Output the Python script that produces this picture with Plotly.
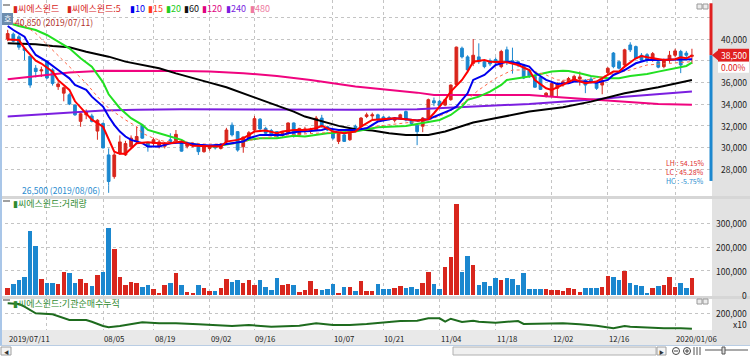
import plotly.graph_objects as go

W, H = 750, 356
def fx(p): return p / W
def fy(p): return 1 - p / H

# ---------------- data ----------------
opens = [40000,40450,40200,39150,38400,37300,37050,37950,37150,35600,
         35000,34850,33900,32400,33000,32900,31500,32200,29300,27300,
         29450,29300,30050,30550,32050,30400,30350,30050,30100,30700,
         30600,30400,30100,30150,30050,29600,29900,30200,29900,30500,
         32050,31450,30050,30850,31600,32600,31750,31550,31450,31100,
         31300,32250,31150,31500,31500,31600,32700,31900,31450,30550,
         31150,30700,31950,31900,32850,32900,33000,32800,32750,32500,
         32700,33300,32500,32050,31950,32700,34300,34250,33900,34400,
         35800,39150,38350,37750,38350,37900,38000,38100,37450,39000,
         38000,37900,37600,37100,36550,36450,34700,34700,35450,35750,
         36050,36200,36300,36200,36300,35900,35750,36900,38700,37900,
         37600,39450,39300,38500,38550,38200,37900,37450,38050,38500,
         38850,38700,38400]
highs = [40850,40600,40400,39250,38450,37600,37450,38000,37300,36100,
         35600,35000,34000,33200,33500,33100,32600,32300,29900,29500,
         31100,30600,31100,31900,32100,30500,30900,30700,30500,31300,
         31600,30500,30500,30500,30200,30200,30200,30300,30400,31800,
         32300,31500,31000,31500,32900,32700,31900,31700,31500,31500,
         32300,32300,31800,31900,31800,32900,33000,32000,31600,31400,
         31300,31400,32100,32800,33200,33200,33100,32900,32900,32800,
         33100,33400,32600,32200,32800,34500,34600,34400,34500,35800,
         39300,39300,38500,40000,39600,38100,38200,38300,39000,39300,
         39200,38000,37700,37200,36700,36500,35100,36000,36000,36200,
         36500,36700,37000,36300,36500,36000,36500,37400,38800,38000,
         39100,39700,39400,38700,38700,38800,38100,38200,38900,39100,
         39000,38900,39100]
lows = [39800,39700,39000,38050,35500,36450,36500,36300,35700,35300,
        34250,33900,32900,31900,32600,32300,30700,29900,26500,27100,
        29300,29200,29900,30400,30800,29600,30000,29900,29900,30300,
        30400,29600,29900,30000,29300,29500,29700,29800,29800,30400,
        31000,29600,29500,30700,31400,31600,31200,31000,30900,31000,
        31200,30900,31000,31300,31300,31500,31800,31500,30700,30300,
        30500,30600,31700,31800,32700,32600,32400,32400,32500,32300,
        32600,32400,32100,30200,31400,32600,33800,33700,33800,34300,
        35700,38200,36900,37500,37700,37300,37500,37600,37300,37600,
        36800,37400,36300,36400,35500,35300,34600,34600,34700,35600,
        35900,36000,35700,35000,35900,35300,34900,36700,37300,37200,
        37500,38800,38100,37900,37800,37900,37300,37300,37800,38300,
        36850,38000,37700]
closes = [40500,39800,39250,38950,35750,37000,37150,36400,35900,35850,
          35500,34000,33000,33100,33300,32400,32500,29950,26850,29300,
          30500,30350,30850,31000,30850,30050,30700,30500,30350,30400,
          31200,29650,30400,30350,29600,30050,30050,29950,30300,31600,
          31150,29750,30950,31350,32650,31700,31300,31150,31000,31350,
          32250,31000,31750,31700,31650,32700,31900,31600,30850,31300,
          30550,31300,31800,32700,33000,33000,32550,32500,32600,32700,
          33000,32550,32200,31450,32700,34400,34100,33850,34400,35750,
          39250,38350,37150,38500,37900,37450,37700,37800,38850,37900,
          37800,37600,36400,36600,35550,35350,35000,35900,35900,36050,
          36350,36550,36500,35750,36050,35450,36200,37300,37450,37300,
          39000,39000,38200,38050,38050,38650,37400,38050,38500,38900,
          37600,38500,38500]
volumes_k = [29,46,62,75,265,205,67,50,50,46, 96,92,50,67,50,37,83,96,280,190,
             75,42,54,50,33,42,25,8,42,50, 92,42,12,8,42,29,17,17,29,67,
             54,62,50,62,42,62,33,21,71,42, 46,42,12,21,58,25,21,25,46,8,
             33,33,17,58,17,17,46,25,25,28, 39,28,32,25,50,97,46,25,118,160,
             379,95,164,125,43,53,39,70,62,70, 67,42,92,25,25,25,25,21,21,17,
             29,25,12,29,29,29,33,79,75,62, 100,50,42,37,8,29,37,42,75,33,
             50,29,71]
volumes = [v * 1000 for v in volumes_k]

ma5_x = [0,2,3,5,6,8,9,11,12,14,15,17,18,19,20,21,22,23,25,27,29,31,33,36,38,39,41,42,44,46,47,48,49,51,53,55,56,57,58,60,62,63,65,68,69,71,73,75,76,78,79,81,82,83,85,86,87,89,91,93,94,96,97,98,100,101,103,105,107,108,109,110,112,113,114,116,117,119,120,121,122]
ma5_y = [39950,39900,39140,38000,37740,36990,36200,35300,34250,33150,32550,31900,30700,29600,29400,29400,29900,30380,30470,30380,30380,30530,30140,30070,30070,30530,30690,30840,31460,31550,31460,31300,31460,31610,31610,31760,31980,31760,31460,31300,31460,31920,32530,32690,32690,32590,32470,32590,33150,34380,35150,36220,36990,37910,38060,37910,37910,37850,37600,37140,36220,35450,35300,35540,36070,36280,35910,36070,36680,36990,36990,37450,38220,38430,38310,38130,38060,38130,38310,38220,38460]
ma10_x = [0,1,3,4,5,7,9,11,12,14,15,17,18,19,20,21,22,24,25,27,29,31,32,34,36,38,40,42,43,45,47,49,50,52,54,56,57,59,62,64,66,69,71,73,75,77,79,80,82,83,85,87,89,91,93,94,96,98,100,101,103,105,107,108,110,112,114,116,118,120,122]
ma10_y = [41200,40830,40215,39290,38525,37910,37140,36370,35760,35300,34680,33760,32840,32070,31460,31000,30690,30380,30070,30070,30380,30440,30380,30230,30170,30230,30380,30530,30840,31150,31150,31150,31300,31460,31520,31610,31760,31610,31610,31760,32380,32690,32590,32470,32590,32990,33450,33760,34990,36220,36680,37600,37910,37760,37450,36900,36220,35850,35910,36070,36070,35970,36220,36680,37140,37760,38060,38060,38060,38060,38120]
ma15_x = [0,3,5,8,11,14,16,18,21,23,24,26,28,31,35,40,45,50,55,60,65,70,75,78,81,84,87,90,93,96,98,101,104,107,111,114,118,122]
ma15_y = [41600,41250,40520,38990,37450,35910,34680,33610,32530,31920,31300,30840,30540,30540,30300,30300,30840,31150,31300,31450,31900,32200,32500,33100,34000,35300,36370,37140,37140,36680,36220,36160,36280,36680,37140,37600,37760,37910]
ma20_x = [0,2,5,7,9,11,13,15,17,18,20,22,24,25,27,29,31,32,35,37,39,42,43,45,48,49,51,53,55,57,59,62,64,66,69,71,73,75,77,79,81,82,84,86,88,89,91,93,95,97,99,100,102,104,107,109,111,114,116,119,121,122]
ma20_y = [41500,41200,40830,40370,39750,39140,38220,37450,36000,34900,33610,32690,32070,31610,31300,31000,30690,30380,30140,30070,30230,30530,30690,30840,30840,30930,31060,31000,31150,31300,31370,31460,31670,31860,31920,31980,32160,32380,32530,32990,33760,34380,34680,35150,35760,36220,36370,36530,36770,36990,37080,37050,36840,36590,36370,36370,36590,36770,36990,37300,37510,37820]
ma60_x = [0,5,8,11,14,18,21,24,27,30,33,36,39,42,45,48,51,53,56,59,62,65,68,71,74,75,78,81,83,86,89,93,99,104,110,116,122]
ma60_y = [39600,39510,39350,39230,38830,38370,37910,37600,37300,36830,36370,35970,35540,34990,34440,33820,33300,32840,32380,31980,31670,31550,31300,31150,31150,31150,31460,31920,32290,32590,32900,33300,33700,34220,34990,35540,36220]
ma120_x = [0,5,8,11,17,23,31,36,42,48,54,62,67,73,76,82,88,93,99,105,111,116,122]
ma120_y = [36280,36590,36770,36900,37080,37080,37050,36990,36840,36590,36220,35610,35360,35050,34840,34840,34840,34840,34590,34380,34130,34010,33920]
ma240_x = [0,5,11,17,23,31,45,62,73,79,85,93,99,105,110,116,122]
ma240_y = [32840,33000,33210,33390,33460,33520,33500,33460,33520,33700,33820,34010,34220,34440,34680,34900,35150]

inst_x = [0,2,3,5,8,11,14,15,17,18,20,24,27,30,34,40,43,47,52,55,58,61,64,67,70,73,75,77,78,79,81,83,84,87,90,91,92,95,99,102,105,108,110,111,114,117,120,122]
inst_y = [297,290,263,197,187,130,130,113,70,57,70,107,97,97,87,70,80,63,73,97,80,80,90,103,120,123,147,147,113,143,110,123,113,103,113,120,90,90,97,87,73,47,70,63,53,47,47,43]

date_idx = [0,17,26,36,44,58,67,77,87,97,107,119]
date_txt = ['2019/07/11','08/05','08/19','09/02','09/16','10/07','10/21','11/04','11/18','12/02','12/16','2020/01/06']
grid_idx = [7,17,26,36,44,58,67,77,87,97,107,119]

price_ticks = [40000,36000,34000,32000,30000,28000]
vol_ticks = [300000,200000,100000,0]

# ---------------- styling ----------------
RED = '#d8261d'
BLUE = '#1b87cf'
FONT = 'Noto Sans CJK KR, DejaVu Sans, sans-serif'
N = len(opens)
idx = list(range(N))
up = [c >= o for o, c in zip(opens, closes)]
vcol = [RED if u else BLUE for u in up]

fig = go.Figure()

ma_specs = [
    (ma240_x, ma240_y, '#7b1fe0', 2, 'solid'),
    (ma120_x, ma120_y, '#f0047f', 2, 'solid'),
    (ma60_x, ma60_y, '#000000', 2, 'solid'),
    (ma20_x, ma20_y, '#22e022', 2, 'solid'),
    (ma15_x, ma15_y, '#ff6a4a', 1, 'dot'),
    (ma10_x, ma10_y, '#0000ee', 2, 'solid'),
    (ma5_x, ma5_y, '#ff0000', 2, 'solid'),
]

fig.add_trace(go.Candlestick(
    x=idx, open=opens, high=highs, low=lows, close=closes,
    increasing=dict(line=dict(color=RED, width=1), fillcolor=RED),
    decreasing=dict(line=dict(color=BLUE, width=1), fillcolor=BLUE),
    whiskerwidth=0, xaxis='x', yaxis='y', hoverinfo='skip', showlegend=False))

for xs, ys, col, w, dash in ma_specs:
    fig.add_trace(go.Scatter(x=xs, y=ys, mode='lines', line=dict(color=col, width=w, dash=dash),
                             xaxis='x', yaxis='y', hoverinfo='skip', showlegend=False))

fig.add_trace(go.Bar(x=idx, y=volumes, marker=dict(color=vcol, line=dict(width=0)), width=0.8,
                     xaxis='x2', yaxis='y2', hoverinfo='skip', showlegend=False))

fig.add_trace(go.Scatter(x=inst_x, y=inst_y, mode='lines', line=dict(color='#1e6b1e', width=2),
                         xaxis='x3', yaxis='y3', hoverinfo='skip', showlegend=False))

XR = [-0.48, 125.4]
xcommon = dict(range=XR, showticklabels=False, tickmode='array', tickvals=grid_idx,
               showgrid=True, gridcolor='#c4c4c4', griddash='dot', gridwidth=1,
               zeroline=False, showline=False, ticks='', fixedrange=True,
               domain=[fx(5), fx(711)])
ycommon = dict(showticklabels=False, showgrid=True, gridcolor='#c4c4c4', griddash='dot',
               gridwidth=1, zeroline=False, showline=False, ticks='', fixedrange=True, tickmode='array')

fig.update_layout(
    width=W, height=H, margin=dict(l=0, r=0, t=0, b=0),
    paper_bgcolor='white', plot_bgcolor='white', showlegend=False,
    bargap=0, barmode='overlay',
    xaxis=dict(**xcommon, anchor='y', rangeslider=dict(visible=False)),
    xaxis2=dict(**xcommon, anchor='y2'),
    xaxis3=dict(**xcommon, anchor='y3'),
    yaxis=dict(**ycommon, domain=[fy(196), fy(0)], range=[25509, 43600],
               tickvals=[28000,30000,32000,34000,36000,38000,40000,42000]),
    yaxis2=dict(**ycommon, domain=[fy(296), fy(199)], range=[-4200, 400000],
                tickvals=[100000,200000,300000]),
    yaxis3=dict(**ycommon, domain=[fy(330), fy(299)], range=[30, 340], tickvals=[200]),
)

shapes = []
def rect(x0, y0, x1, y1, fill, line=None, layer='below'):
    shapes.append(dict(type='rect', xref='paper', yref='paper', x0=fx(x0), x1=fx(x1),
                       y0=fy(y1), y1=fy(y0), fillcolor=fill,
                       line=dict(width=0) if line is None else dict(color=line, width=1), layer=layer))

# right grey axis band and date band
rect(712, 0, 750, 345, '#e2e2e2')
rect(0, 330, 712, 345, '#e9e9e9')
# panel separators
rect(0, 196, 750, 199, '#d6d6d6', layer='above')
rect(0, 296, 750, 299, '#d6d6d6', layer='above')
# left border
rect(0, 0, 2, 345, '#a9c6e8', layer='above')
# bottom scroll row
rect(0, 345, 750, 346, '#b9cde4', layer='above')
rect(1, 347, 11, 355, '#f4f4f4', line='#a0a0a0', layer='above')
rect(453, 347, 656, 355, '#f0f0f0', line='#b0b0b0', layer='above')
rect(657, 347, 666, 355, '#f4f4f4', line='#a0a0a0', layer='above')
# small window icons
for yy in (4, 299):
    rect(697, yy, 702, yy + 5, '#ececec', line='#9a9a9a', layer='above')
    rect(703, yy, 708, yy + 5, '#ececec', line='#9a9a9a', layer='above')
# panel title grey handles
rect(3, 200, 10, 202, '#a0a0a0', layer='above')
rect(3, 299, 10, 301, '#a0a0a0', layer='above')
rect(3, 4, 10, 6, '#a0a0a0', layer='above')
# top-left icon
rect(2, 13, 13, 25, '#6c8cae', layer='above')
# zoom icons (drawn as circles)
for cx in (676, 687):
    shapes.append(dict(type='circle', xref='paper', yref='paper', x0=fx(cx - 3.5), x1=fx(cx + 3.5),
                       y0=fy(354.5), y1=fy(347.5), line=dict(color='#444', width=1), layer='above'))
shapes.append(dict(type='line', xref='paper', yref='paper', x0=fx(674), x1=fx(678), y0=fy(351), y1=fy(351),
                   line=dict(color='#444', width=1), layer='above'))
shapes.append(dict(type='line', xref='paper', yref='paper', x0=fx(685), x1=fx(689), y0=fy(351), y1=fy(351),
                   line=dict(color='#444', width=1), layer='above'))
shapes.append(dict(type='line', xref='paper', yref='paper', x0=fx(687), x1=fx(687), y0=fy(353), y1=fy(349),
                   line=dict(color='#444', width=1), layer='above'))
for bx in (694, 697, 700):
    shapes.append(dict(type='line', xref='paper', yref='paper', x0=fx(bx), x1=fx(bx), y0=fy(355), y1=fy(347),
                       line=dict(color='#555', width=1), layer='above'))

last_close = closes[-1]
# price range bar on right edge
shapes.append(dict(type='line', xref='paper', yref='y', x0=fx(711), x1=fx(711), y0=last_close, y1=43300,
                   line=dict(color='#e02020', width=3), layer='above'))
shapes.append(dict(type='line', xref='paper', yref='y', x0=fx(711), x1=fx(711), y0=26900, y1=last_close,
                   line=dict(color='#1b87cf', width=3), layer='above'))
# current price marker
shapes.append(dict(type='rect', xref='paper', yref='y', ysizemode='pixel', yanchor=last_close,
                   x0=fx(718), x1=fx(749), y0=-6.5, y1=6.5, fillcolor='#e02020', line=dict(width=0), layer='above'))
shapes.append(dict(type='rect', xref='paper', yref='y', ysizemode='pixel', yanchor=last_close,
                   x0=fx(718), x1=fx(749), y0=-17.5, y1=-6.5, fillcolor='white', line=dict(width=0), layer='above'))
shapes.append(dict(type='path', xref='paper', yref='y', xsizemode='pixel', ysizemode='pixel',
                   xanchor=fx(712), yanchor=last_close, path='M 0,0 L 6,5 L 6,-5 Z',
                   fillcolor='#e02020', line=dict(width=0), layer='above'))
# low marker connector
shapes.append(dict(type='line', xref='x', yref='y', x0=18, x1=18, y0=26500, y1=26500 - 700,
                   line=dict(color='#2a8ccf', width=1), layer='above'))
# bottom slider
shapes.append(dict(type='line', xref='paper', yref='paper', x0=fx(705), x1=fx(748), y0=fy(350), y1=fy(350),
                   line=dict(color='#555', width=1), layer='above'))
shapes.append(dict(type='rect', xref='paper', yref='paper', x0=fx(722), x1=fx(725), y0=fy(354), y1=fy(347),
                   fillcolor='#ddd', line=dict(color='#555', width=1), layer='above'))
fig.update_layout(shapes=shapes)

ann = []
def txt(x, y, s, color='#222', size=8.5, xanchor='left', xref='paper', yref='paper', **kw):
    ann.append(dict(x=x, y=y, text=s, xref=xref, yref=yref, xanchor=xanchor, yanchor='middle',
                    showarrow=False, borderpad=0, font=dict(family=FONT, size=size, color=color), **kw))

# legend row
legend = [(4, '▮씨에스윈드', '#d8261d'), (58, '▮씨에스윈드:5', '#d8261d'), (121, '▮10', '#0000ee'),
          (139, '▮15', '#ff3b1f'), (157, '▮20', '#22cc22'), (175, '▮60', '#111111'),
          (193, '▮120', '#e0047f'), (217, '▮240', '#7b1fe0'), (241, '▮480', '#ee7aa0')]
for px, s, c in legend:
    txt(fx(px + 8), fy(8), s, color=c, size=9)
txt(fx(7.5), fy(19), '호', color='white', size=8, xanchor='center')
txt(fx(14), fy(22), '40,850 (2019/07/11)', color='#b0302a', size=8.5)
txt(fx(21), fy(190), '26,500 (2019/08/06)', color='#2a8ccf', size=8.5)
txt(fx(705), fy(163), 'LH : 54.15%', color='#e03030', size=7, xanchor='right')
txt(fx(705), fy(172), 'LC : 45.28%', color='#e03030', size=7, xanchor='right')
txt(fx(705), fy(181), 'HC : -5.75%', color='#2a8ccf', size=7, xanchor='right')
txt(fx(12), fy(204), '▮씨에스윈드:거래량', color='#2f8a2f', size=9)
txt(fx(12), fy(303), '▮씨에스윈드:기관순매수누적', color='#2f8a2f', size=9)

for v in price_ticks:
    txt(fx(748), v, f'{v:,}', xanchor='right', yref='y')
for v in vol_ticks:
    txt(fx(748), v, f'{v:,}', xanchor='right', yref='y2')
txt(fx(748), 200, '200,000', xanchor='right', yref='y3')
txt(fx(748), fy(324), 'x10', xanchor='right')
# current price labels
txt(fx(733.5), last_close, f'{last_close:,}', color='white', size=8.5, xanchor='center', yref='y')
txt(fx(733.5), last_close, '0.00%', color='#e02020', size=8.5, xanchor='center', yref='y', yshift=-12)

for i, s in zip(date_idx, date_txt):
    txt(i, fy(338), s, xref='x3', size=7.8)

# scroll buttons
txt(fx(6), fy(351), '◀', color='#333', size=5, xanchor='center')
txt(fx(661.5), fy(351), '▶', color='#333', size=5, xanchor='center')
fig.update_layout(annotations=ann)

fig.write_html('out.html', config=dict(displayModeBar=False),
               post_script="document.body.style.margin='0';document.body.style.overflow='hidden';")
